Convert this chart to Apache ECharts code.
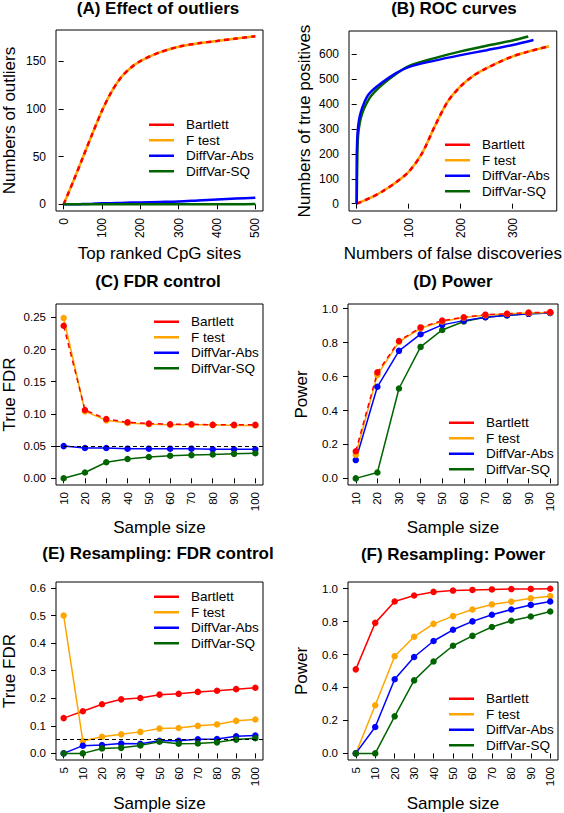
<!DOCTYPE html>
<html>
<head>
<meta charset="utf-8">
<script src="https://cdn.jsdelivr.net/npm/echarts@6/dist/echarts.min.js"></script>
<style>
  html, body { margin: 0; padding: 0; background: #fff; }
  #main { width: 564px; height: 813px; }
</style>
</head>
<body>
<div id="main"></div>
<script>
// ---- data ----
const methods = ['Bartlett', 'F test', 'DiffVar-Abs', 'DiffVar-SQ'];

// (A) effect of outliers
const topSites     = [0, 25, 50, 75, 100, 125, 150, 175, 200, 250, 300, 350, 400, 450, 500];
const outBartlett  = [0, 24, 49, 74, 98, 118, 133, 143, 150, 159, 165, 168.5, 171, 173.5, 176];
const outFtest     = [0, 24, 49, 74, 98, 118, 133, 143, 150, 159, 165, 168.5, 171, 173.5, 176];
const outAbs       = [0, 0, 0.3, 0.6, 1, 1.2, 1.5, 1.8, 2, 2.5, 3, 4, 5, 6, 7];
const outSQ        = [0, 0, 0, 0, 0, 0, 0, 0, 0, 0, 0, 0, 0, 0.1, 0.2];

// (B) ROC curves: false discoveries / true positives
const fdBartlett = [0, 25, 50, 75, 100, 125, 150, 175, 200, 225, 250, 275, 300, 325, 350, 370];
const tpBartlett = [0, 22, 50, 85, 128, 200, 310, 410, 472, 515, 545, 570, 592, 608, 622, 633];
const fdFtest    = [0, 25, 50, 75, 100, 125, 150, 175, 200, 225, 250, 275, 300, 325, 350, 370];
const tpFtest    = [0, 22, 50, 85, 128, 200, 310, 410, 472, 515, 545, 570, 592, 608, 622, 633];
const fdAbs      = [0, 0, 1, 3, 6, 11, 20, 30, 50, 75, 100, 150, 200, 250, 300, 340];
const tpAbs      = [0, 160, 260, 315, 352, 388, 430, 455, 489, 524, 549, 575, 597, 617, 638, 658];
const fdSQ       = [0, 1, 2, 4, 8, 14, 25, 35, 50, 75, 100, 150, 200, 250, 300, 330];
const tpSQ       = [0, 150, 250, 300, 345, 382, 425, 450, 480, 520, 553, 585, 612, 635, 656, 672];

// (C) FDR control and (D) power, sample sizes 10..100
const sizesCD     = [10, 20, 30, 40, 50, 60, 70, 80, 90, 100];
const fdrBartlett = [0.237, 0.106, 0.092, 0.087, 0.085, 0.084, 0.084, 0.083, 0.083, 0.083];
const fdrFtest    = [0.249, 0.104, 0.090, 0.086, 0.084, 0.083, 0.083, 0.083, 0.082, 0.082];
const fdrAbs      = [0.050, 0.047, 0.047, 0.046, 0.046, 0.046, 0.046, 0.045, 0.045, 0.045];
const fdrSQ       = [0.000, 0.009, 0.025, 0.030, 0.033, 0.035, 0.036, 0.037, 0.038, 0.039];
const powBartlett = [0.160, 0.625, 0.810, 0.890, 0.930, 0.950, 0.965, 0.970, 0.977, 0.980];
const powFtest    = [0.140, 0.610, 0.805, 0.885, 0.925, 0.948, 0.962, 0.970, 0.975, 0.978];
const powAbs      = [0.108, 0.540, 0.752, 0.850, 0.905, 0.930, 0.950, 0.962, 0.970, 0.975];
const powSQ       = [0.000, 0.035, 0.530, 0.775, 0.875, 0.925, 0.950, 0.960, 0.970, 0.975];

// (E) resampling FDR and (F) resampling power, sample sizes 5..100 (equally spaced)
const sizesEF      = ['5', '10', '20', '30', '40', '50', '60', '70', '80', '90', '100'];
const rFdrBartlett = [0.128, 0.153, 0.178, 0.196, 0.201, 0.213, 0.216, 0.223, 0.227, 0.233, 0.238];
const rFdrFtest    = [0.500, 0.045, 0.060, 0.069, 0.078, 0.090, 0.092, 0.100, 0.105, 0.118, 0.123];
const rFdrAbs      = [0.000, 0.028, 0.030, 0.036, 0.035, 0.046, 0.046, 0.051, 0.052, 0.062, 0.065];
const rFdrSQ       = [0.000, 0.000, 0.018, 0.020, 0.029, 0.042, 0.035, 0.036, 0.040, 0.050, 0.055];
const rPowBartlett = [0.510, 0.792, 0.922, 0.958, 0.980, 0.988, 0.992, 0.995, 0.997, 0.998, 0.999];
const rPowFtest    = [0.000, 0.292, 0.590, 0.708, 0.786, 0.833, 0.873, 0.904, 0.921, 0.941, 0.954];
const rPowAbs      = [0.000, 0.160, 0.450, 0.585, 0.682, 0.750, 0.801, 0.841, 0.873, 0.901, 0.922];
const rPowSQ       = [0.000, 0.000, 0.225, 0.443, 0.558, 0.653, 0.713, 0.767, 0.805, 0.831, 0.861];

// tick positions
const ticksAx = [0, 100, 200, 300, 400, 500];
const ticksAy = [0, 50, 100, 150];
const ticksBx = [0, 100, 200, 300];
const ticksBy = [0, 100, 200, 300, 400, 500, 600];
const ticksCy = [0, 0.05, 0.10, 0.15, 0.20, 0.25];
const ticksDy = [0, 0.2, 0.4, 0.6, 0.8, 1.0];
const ticksEy = [0, 0.1, 0.2, 0.3, 0.4, 0.5, 0.6];
const ticksEFx = [1, 2, 3, 4, 5, 6, 7, 8, 9, 10, 11];
const fdrLevel = 0.05;

// ---- chart ----
const FONT = '"Liberation Sans", Arial, Helvetica, sans-serif';
const RED = '#FF0000', ORANGE = '#FFA500', BLUE = '#0000FF', GREEN = '#006400';

const grids = [
  { left: 53,  top: 30,  width: 210, height: 181 },
  { left: 349, top: 31,  width: 210, height: 180 },
  { left: 53,  top: 304, width: 210, height: 181 },
  { left: 348, top: 304, width: 210, height: 181 },
  { left: 53,  top: 582, width: 210, height: 179 },
  { left: 348, top: 582, width: 210, height: 179 }
].map(g => Object.assign(g, { show: true, borderColor: '#000', borderWidth: 1, backgroundColor: 'transparent' }));

function xAxis(gi, min, max, ticks, name, gap, fs, fmt) {
  return {
    type: 'value', gridIndex: gi, min, max, position: 'bottom',
    axisLine: { show: false },
    axisTick: { show: true, length: 5, customValues: ticks, lineStyle: { color: '#000', width: 1 } },
    axisLabel: { customValues: ticks, rotate: 90, margin: 7, fontSize: fs, color: '#000', fontFamily: FONT, formatter: fmt },
    splitLine: { show: false },
    name, nameLocation: 'middle', nameGap: gap,
    nameTextStyle: { fontSize: 17, color: '#000', fontFamily: FONT }
  };
}
function yAxis(gi, min, max, ticks, name, gap, fs, fmt) {
  return {
    type: 'value', gridIndex: gi, min, max,
    axisLine: { show: false },
    axisTick: { show: true, length: 5, customValues: ticks, lineStyle: { color: '#000', width: 1 } },
    axisLabel: { customValues: ticks, margin: 10, fontSize: fs, color: '#000', fontFamily: FONT, formatter: fmt },
    splitLine: { show: false },
    name, nameLocation: 'middle', nameGap: gap,
    nameTextStyle: { fontSize: 17, color: '#000', fontFamily: FONT }
  };
}
const int = v => String(Math.round(v));
const idxLabel = v => sizesEF[Math.round(v) - 1];

function pairs(xs, ys) { return xs.map((x, i) => [x, ys[i]]); }

function curve(name, gi, data, color, extra) {
  return Object.assign({
    name, type: 'line', xAxisIndex: gi, yAxisIndex: gi, data,
    symbol: 'none', showSymbol: false, smooth: 0.3,
    lineStyle: { color, width: 2.5 }, itemStyle: { color },
    silent: true, animation: false
  }, extra || {});
}
function dots(name, gi, xs, ys, color, extra) {
  return Object.assign({
    name, type: 'line', xAxisIndex: gi, yAxisIndex: gi, data: pairs(xs, ys),
    symbol: 'circle', symbolSize: 6.5, showSymbol: true,
    lineStyle: { color, width: 1.5 }, itemStyle: { color },
    silent: true, animation: false
  }, extra || {});
}
const levelLine = {
  silent: true, symbol: 'none', label: { show: false }, animation: false,
  lineStyle: { color: '#000', type: [4, 3], width: 1.2 },
  data: [{ yAxis: fdrLevel }]
};
const dashed = { type: [5, 4] };

const series = [
  // A
  curve('F test', 0, pairs(topSites, outFtest), ORANGE),
  curve('Bartlett', 0, pairs(topSites, outBartlett), RED, { lineStyle: Object.assign({ color: RED, width: 2.5 }, dashed) }),
  curve('DiffVar-Abs', 0, pairs(topSites, outAbs), BLUE),
  curve('DiffVar-SQ', 0, pairs(topSites, outSQ), GREEN),
  // B
  curve('F test', 1, pairs(fdFtest, tpFtest), ORANGE),
  curve('Bartlett', 1, pairs(fdBartlett, tpBartlett), RED, { lineStyle: Object.assign({ color: RED, width: 2.5 }, dashed) }),
  curve('DiffVar-SQ', 1, pairs(fdSQ, tpSQ), GREEN),
  curve('DiffVar-Abs', 1, pairs(fdAbs, tpAbs), BLUE),
  // C
  dots('F test', 2, sizesCD, fdrFtest, ORANGE),
  dots('Bartlett', 2, sizesCD, fdrBartlett, RED, { lineStyle: Object.assign({ color: RED, width: 1.5 }, dashed) }),
  dots('DiffVar-Abs', 2, sizesCD, fdrAbs, BLUE, { markLine: levelLine }),
  dots('DiffVar-SQ', 2, sizesCD, fdrSQ, GREEN),
  // D
  dots('DiffVar-SQ', 3, sizesCD, powSQ, GREEN),
  dots('DiffVar-Abs', 3, sizesCD, powAbs, BLUE),
  dots('F test', 3, sizesCD, powFtest, ORANGE),
  dots('Bartlett', 3, sizesCD, powBartlett, RED, { lineStyle: Object.assign({ color: RED, width: 1.5 }, dashed) }),
  // E
  dots('Bartlett', 4, ticksEFx, rFdrBartlett, RED),
  dots('F test', 4, ticksEFx, rFdrFtest, ORANGE),
  dots('DiffVar-Abs', 4, ticksEFx, rFdrAbs, BLUE, { markLine: levelLine }),
  dots('DiffVar-SQ', 4, ticksEFx, rFdrSQ, GREEN),
  // F
  dots('Bartlett', 5, ticksEFx, rPowBartlett, RED),
  dots('F test', 5, ticksEFx, rPowFtest, ORANGE),
  dots('DiffVar-Abs', 5, ticksEFx, rPowAbs, BLUE),
  dots('DiffVar-SQ', 5, ticksEFx, rPowSQ, GREEN)
];

function legendAt(left, top) {
  return {
    left, top, orient: 'vertical', data: methods, icon: 'rect',
    itemWidth: 25, itemHeight: 2.5, itemGap: 0, selectedMode: false,
    padding: 0,
    textStyle: { fontSize: 13.5, color: '#000', fontFamily: FONT, lineHeight: 15.5, padding: [0, 0, 0, 7] }
  };
}
function titleAt(text, x, top) {
  return { text, left: x, top, textAlign: 'center', padding: 0,
    textStyle: { fontSize: 17, fontWeight: 'bold', color: '#000', fontFamily: FONT } };
}

const chart = echarts.init(document.getElementById('main'), null, { renderer: 'svg' });
chart.setOption({
  animation: false,
  backgroundColor: '#fff',
  title: [
    titleAt('(A) Effect of outliers', 158, 0),
    titleAt('(B) ROC curves', 454, 0),
    titleAt('(C) FDR control', 158, 273),
    titleAt('(D) Power', 453, 273),
    titleAt('(E) Resampling: FDR control', 158, 545),
    titleAt('(F) Resampling: Power', 453, 546)
  ],
  legend: [
    legendAt(149, 117),
    legendAt(445, 137),
    legendAt(154, 314),
    legendAt(449, 415),
    legendAt(154, 589),
    legendAt(449, 691)
  ],
  grid: grids,
  xAxis: [
    xAxis(0, -20, 520, ticksAx, 'Top ranked CpG sites', 34, 12, int),
    xAxis(1, -14.8, 384.8, ticksBx, 'Numbers of false discoveries', 34, 12, int),
    xAxis(2, 6.4, 103.6, sizesCD, 'Sample size', 34, 11.5, int),
    xAxis(3, 6.4, 103.6, sizesCD, 'Sample size', 34, 11.5, int),
    xAxis(4, 0.6, 11.4, ticksEFx, 'Sample size', 35, 11.5, idxLabel),
    xAxis(5, 0.6, 11.4, ticksEFx, 'Sample size', 35, 11.5, idxLabel)
  ],
  yAxis: [
    yAxis(0, -7, 182.5, ticksAy, 'Numbers of outliers', 38, 12, int),
    yAxis(1, -29.5, 694, ticksBy, 'Numbers of true positives', 36, 12, int),
    yAxis(2, -0.0104, 0.2707, ticksCy, 'True FDR', 38, 11.5, v => v.toFixed(2)),
    yAxis(3, -0.039, 1.028, ticksDy, 'Power', 38, 11.5, v => v.toFixed(1)),
    yAxis(4, -0.024, 0.6216, ticksEy, 'True FDR', 38, 11.5, v => v.toFixed(1)),
    yAxis(5, -0.04, 1.04, ticksDy, 'Power', 38, 11.5, v => v.toFixed(1))
  ],
  series
});
</script>
</body>
</html>
